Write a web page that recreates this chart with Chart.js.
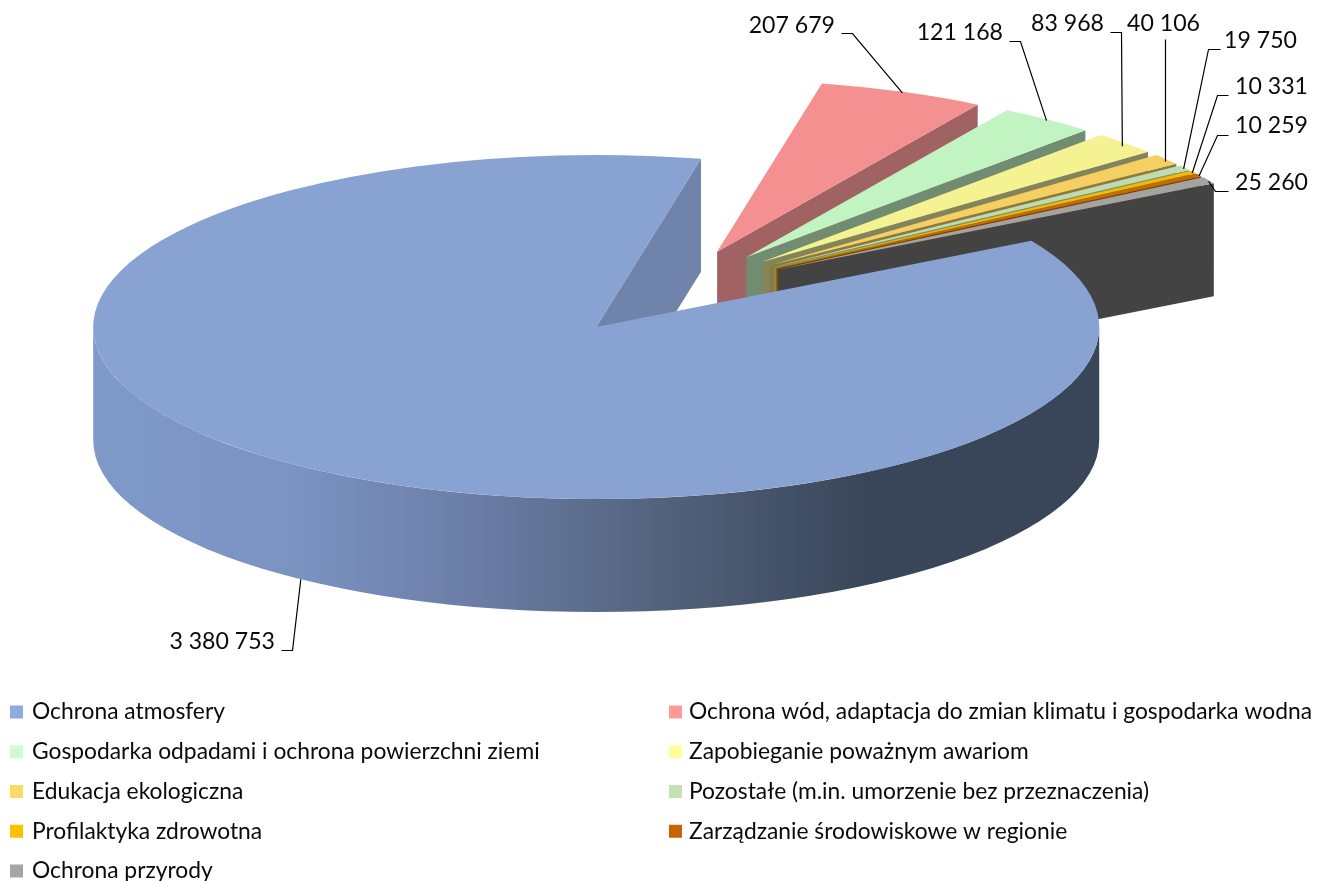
<!DOCTYPE html>
<html><head><meta charset="utf-8">
<style>html,body{margin:0;padding:0;background:#fff}canvas{display:block}</style>
<script src="https://cdn.jsdelivr.net/npm/chart.js@4"></script>
</head><body><canvas id="c" width="1317" height="881"></canvas>
<script>
const categories = ["Ochrona atmosfery","Ochrona wód, adaptacja do zmian klimatu i gospodarka wodna","Gospodarka odpadami i ochrona powierzchni ziemi","Zapobieganie poważnym awariom","Edukacja ekologiczna","Pozostałe (m.in. umorzenie bez przeznaczenia)","Profilaktyka zdrowotna","Zarządzanie środowiskowe w regionie","Ochrona przyrody"];
const values = [3380753,207679,121168,83968,40106,19750,10331,10259,25260];
const valueLabels = ["3 380 753","207 679","121 168","83 968","40 106","19 750","10 331","10 259","25 260"];
const topColors = ["#88a2d2","#f59090","#c1f4c1","#f5f291","#f5cf62","#c0dcae","#f5b900","#c46a06","#a3a3a3"];
const wallColors = ["#6f83ab","#a06262","#728c72","#84845a","#8a7a40","#7a8f70","#a07a00","#7c4404","#434343"];
const legendColors = ["#8faadc","#ff9999","#ccffcc","#ffff99","#ffd966","#c5e0b4","#ffc000","#c86400","#a5a5a5"];
// label layout: right edge of text, vertical centre, elbow of the leader, start of the leader
const labelRight = [275,835,1003,1104,1200,1297,1308,1308,1308];
const labelY = [642,26,33,24,24,41,87,126,183];
const leaderStart = [[281,650],[841,33],[1009,41],[1110,32],null,[1220,49],[1228,95],[1228,135],[1228,191]];
const leaderElbow = [[292,650],[852,33],[1020,41],[1121,32],[1165,39],[1208,49],[1217,95],[1217,135],[1215,191]];
const leaderNudge = [[0,0],[0,1],[-1,1],[-3,3],[-1,2],[-1,1],[-1,1],[0,1],[0,1]];

const CX=670.5, CY=292, K=0.342, EXPLODE=126.5, DEPTH=113;
const FONT_LABEL='23.1px Lato', FONT_LEGEND='22.8px Lato';

function offsetOf(arc){const h=(arc.startAngle+arc.endAngle)/2;return [Math.cos(h)*EXPLODE,Math.sin(h)*EXPLODE];}
function project(arc,o,a,r){return [CX+o[0]+r*Math.cos(a),CY+K*(o[1]+r*Math.sin(a))];}

const pie3d={id:'pie3d',
 beforeDatasetDraw(chart,args){
  const ctx=chart.ctx, arcs=args.meta.data;
  const order=[1,2,3,4,5,6,7,8,0];
  order.forEach(i=>{
   const arc=arcs[i], o=offsetOf(arc), R=arc.outerRadius;
   // end radial face
   const p0=project(arc,o,0,0), p1=project(arc,o,arc.endAngle,R);
   ctx.save();
   ctx.fillStyle=wallColors[i];
   ctx.beginPath();ctx.moveTo(p0[0],p0[1]);ctx.lineTo(p1[0],p1[1]);ctx.lineTo(p1[0],p1[1]+DEPTH);ctx.lineTo(p0[0],p0[1]+DEPTH);ctx.closePath();ctx.fill();
   // outer rim, only the part facing the viewer
   const from=Math.max(arc.startAngle,0), to=Math.min(arc.endAngle,Math.PI);
   if(to>from){
    const cx=p0[0], cy=p0[1];
    const g=ctx.createLinearGradient(cx-R,0,cx+R,0);
    g.addColorStop(0,'#7f99c9');g.addColorStop(0.2,'#7a93c1');g.addColorStop(0.38,'#6b7da6');
    g.addColorStop(0.55,'#55647f');g.addColorStop(0.77,'#394659');g.addColorStop(1,'#394659');
    ctx.fillStyle=g;
    ctx.beginPath();
    ctx.ellipse(cx,cy,R,R*K,0,from,to,false);
    ctx.ellipse(cx,cy+DEPTH,R,R*K,0,to,from,true);
    ctx.closePath();ctx.fill();
   }
   ctx.restore();
   // top face, drawn by the library's own arc element
   ctx.save();
   ctx.translate(CX+o[0],CY+K*o[1]);
   ctx.scale(1,K);
   ctx.translate(-arc.x,-arc.y);
   arc.draw(ctx);
   ctx.restore();
  });
  return false;
 },
 afterDraw(chart){
  const ctx=chart.ctx, arcs=chart.getDatasetMeta(0).data;
  ctx.save();
  // value labels and leaders
  ctx.strokeStyle='#000';ctx.lineWidth=1.2;
  arcs.forEach((arc,i)=>{
   const h=(arc.startAngle+arc.endAngle)/2,o=offsetOf(arc),e=project(arc,o,h,arc.outerRadius);
   if(i===0)e[1]+=DEPTH;
   e[0]+=leaderNudge[i][0];e[1]+=leaderNudge[i][1];
   ctx.beginPath();
   const s=leaderStart[i],m=leaderElbow[i];
   if(s)ctx.moveTo(s[0]+.5,s[1]+.5),ctx.lineTo(m[0]+.5,m[1]+.5);else ctx.moveTo(m[0]+.5,m[1]+.5);
   ctx.lineTo(e[0],e[1]);ctx.stroke();
   ctx.fillStyle='#0a0a0a';ctx.font=FONT_LABEL;ctx.textAlign='right';ctx.textBaseline='middle';
   ctx.fillText(valueLabels[i],labelRight[i],labelY[i]);
  });
  // legend
  chart.data.labels.forEach((t,i)=>{
   const col=i%2,row=Math.floor(i/2);
   const x=col?669:10, y=712+row*39.75;
   ctx.fillStyle=legendColors[i];ctx.fillRect(x,y-6.5,13,13);
   ctx.fillStyle='#0a0a0a';ctx.font=FONT_LEGEND;ctx.textAlign='left';ctx.textBaseline='middle';
   ctx.fillText(t,x+(col?20:22),y);
  });
  ctx.restore();
 }
};

new Chart(document.getElementById('c'),{
 type:'pie',
 data:{labels:categories,datasets:[{data:values,backgroundColor:topColors,borderWidth:0,radius:503}]},
 options:{responsive:false,animation:false,rotation:59.9,
  plugins:{legend:{display:false},tooltip:{enabled:false}},events:[]},
 plugins:[pie3d]
});
</script></body></html>
